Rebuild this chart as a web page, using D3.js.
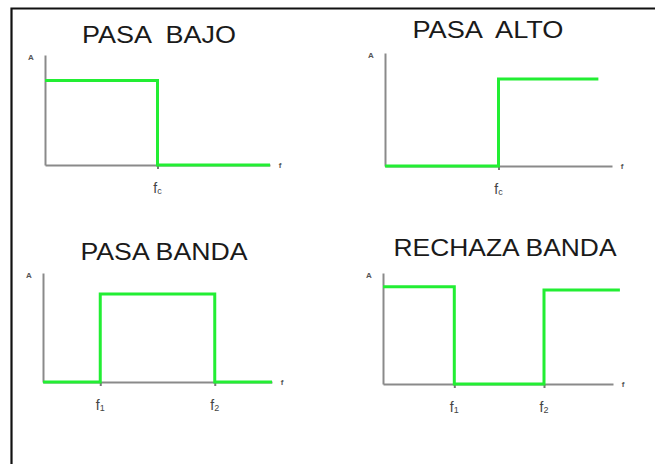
<!DOCTYPE html>
<html>
<head>
<meta charset="utf-8">
<script src="https://cdn.jsdelivr.net/npm/d3@7"></script>
<style>
  html, body { margin: 0; padding: 0; background: #fff; }
  svg { display: block; }
  text { font-family: "Liberation Sans", Arial, sans-serif; }
</style>
</head>
<body>
<svg id="chart" width="655" height="464"></svg>
<script>
// ---- data ----
const titles = ["PASA  BAJO", "PASA  ALTO", "PASA BANDA", "RECHAZA BANDA"];
const tickValues = [[5], [5], [2.5, 7.5], [3.1, 7.0]];
const tickLabels = [[["f", "c"]], [["f", "c"]], [["f", "1"], ["f", "2"]], [["f", "1"], ["f", "2"]]];
// step responses: [frequency, amplitude] vertices (step-after)
const lowPass  = [[0, 1.0], [5, 0], [10, 0]];
const highPass = [[0, 0], [5, 1.0], [9.4, 1.0]];
const bandPass = [[0, 0], [2.5, 1.05], [7.5, 0], [10, 0]];
const bandStop = [[0, 1.14], [3.1, 0], [7.0, 1.10], [10.3, 1.10]];
const series = [lowPass, highPass, bandPass, bandStop];
const axisLabelY = "A";
const axisLabelX = "f";

// ---- layout ----
const frames = [
  { x0: 45,  x1: 270, yb: 165, yt: 55,  tx: 159, ty: 43,  tw: 154 },
  { x0: 385, x1: 612, yb: 166, yt: 53,  tx: 488, ty: 38,  tw: 151 },
  { x0: 43,  x1: 272, yb: 382, yt: 273, tx: 164, ty: 260, tw: 167 },
  { x0: 383, x1: 613, yb: 384, yt: 273, tx: 505, ty: 256, tw: 223 }
];

const svg = d3.select("#chart");

// outer frame (cropped box)
svg.append("path")
  .attr("d", "M11.5,464 L11.5,8.5 L655,8.5")
  .attr("fill", "none")
  .attr("stroke", "#111")
  .attr("stroke-width", 2.2);

frames.forEach((f, i) => {
  const x = d3.scaleLinear().domain([0, 10]).range([f.x0, f.x1]);
  const y = d3.scaleLinear().domain([0, 1.3]).range([f.yb, f.yt]);
  const g = svg.append("g");

  // title
  g.append("text")
    .attr("x", f.tx).attr("y", f.ty)
    .attr("text-anchor", "middle")
    .attr("font-size", 24)
    .attr("fill", "#1a1a1a")
    .attr("textLength", f.tw)
    .attr("lengthAdjust", "spacingAndGlyphs")
    .attr("style", "white-space: pre")
    .text(titles[i]);

  // x axis
  const xa = g.append("g")
    .attr("transform", `translate(0,${f.yb})`)
    .call(d3.axisBottom(x).tickValues(tickValues[i]).tickSize(4).tickSizeOuter(0).tickFormat(""));
  xa.select(".domain").attr("stroke", "#8a8a8a").attr("stroke-width", 2);
  xa.selectAll(".tick line").attr("stroke", "#777").attr("stroke-width", 2);

  // y axis
  const ya = g.append("g")
    .attr("transform", `translate(${f.x0},0)`)
    .call(d3.axisLeft(y).tickValues([]).tickSizeOuter(0));
  ya.select(".domain").attr("stroke", "#8a8a8a").attr("stroke-width", 2);

  // tick labels with subscripts
  tickValues[i].forEach((v, k) => {
    const t = g.append("text")
      .attr("x", x(v)).attr("y", f.yb + 28)
      .attr("text-anchor", "middle")
      .attr("font-size", 14)
      .attr("fill", "#444");
    t.append("tspan").text(tickLabels[i][k][0]);
    t.append("tspan").attr("font-size", 9).attr("dy", 1).text(tickLabels[i][k][1]);
  });

  // axis name labels
  g.append("text")
    .attr("x", f.x0 - 14).attr("y", f.yt + 5)
    .attr("font-size", 8).attr("font-weight", "bold").attr("fill", "#555")
    .attr("text-anchor", "middle")
    .text(axisLabelY);
  g.append("text")
    .attr("x", f.x1 + 10).attr("y", f.yb + 3)
    .attr("font-size", 8).attr("font-weight", "bold").attr("fill", "#555")
    .attr("text-anchor", "middle")
    .text(axisLabelX);

  // green response
  const line = d3.line().x(d => x(d[0])).y(d => y(d[1])).curve(d3.curveStepAfter);
  g.append("path")
    .datum(series[i])
    .attr("d", line)
    .attr("fill", "none")
    .attr("stroke", "#22ee33")
    .attr("stroke-width", 3);
});
</script>
</body>
</html>
